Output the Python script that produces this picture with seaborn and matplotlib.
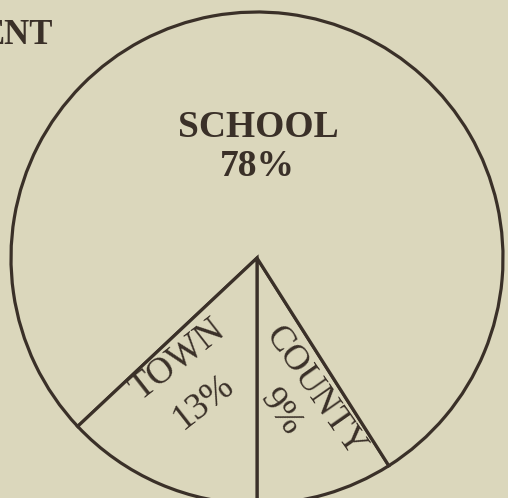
import seaborn as sns
import matplotlib.pyplot as plt

# slices, counter-clockwise starting straight down
labels = ["COUNTY", "SCHOOL", "TOWN"]
shares = [9, 78, 13]
bg = "#dbd7bc"
ink = "#3a3028"

sns.set_theme(style="white", rc={"figure.facecolor": bg, "axes.facecolor": bg})
plt.rcParams["font.family"] = ["Liberation Serif", "DejaVu Serif"]

fig = plt.figure(figsize=(5.08, 4.98), dpi=100)
ax = fig.add_axes([0, 0, 1, 1])
ax.axis("off")

cx, cy, r = 257, 240, 246
wedges, _ = ax.pie(shares, startangle=-90, center=(cx, cy), radius=r,
                   colors=[bg] * len(shares),
                   wedgeprops=dict(edgecolor=ink, linewidth=2.3))
ax.set_xlim(0, 508)
ax.set_ylim(0, 498)
ax.set_aspect("equal")

txt = dict(color=ink, ha="center", va="center")
ax.text(258, 498 - 127, labels[1], fontsize=27, fontweight="bold", **txt)
ax.text(257, 498 - 166, f"{shares[1]}%", fontsize=27, fontweight="bold", **txt)

ax.text(178, 498 - 360, labels[2], fontsize=26.5, rotation=38, **txt)
ax.text(204, 498 - 402, f"{shares[2]}%", fontsize=26.5, rotation=38, **txt)

ax.text(315, 498 - 392, labels[0], fontsize=26, rotation=-55, **txt)
ax.text(281, 498 - 413, f"{shares[0]}%", fontsize=26, rotation=-55, **txt)

# title is cut off by the left edge in the source picture
ax.text(53, 498 - 35, "ENT", fontsize=25, fontweight="bold", color=ink,
        ha="right", va="center")

fig.savefig("out.png", dpi=100, facecolor=bg)
